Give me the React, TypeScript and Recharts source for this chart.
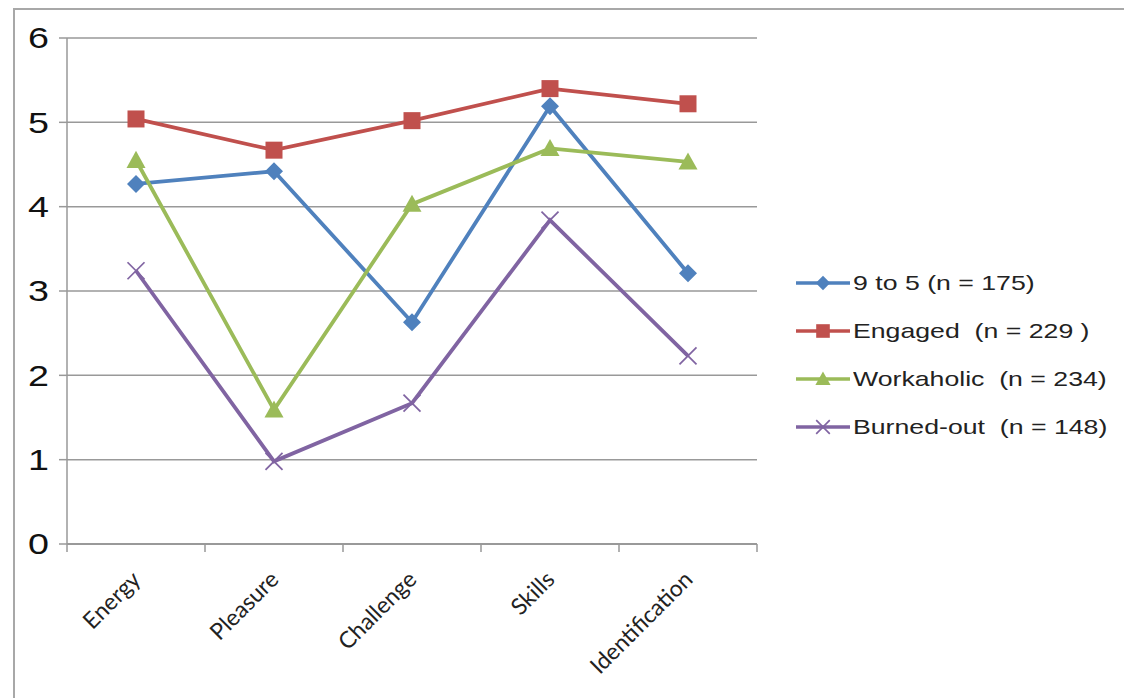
import React from 'react';
import { LineChart, Line, XAxis, YAxis, CartesianGrid } from 'recharts';

const categories = ['Energy', 'Pleasure', 'Challenge', 'Skills', 'Identification'];
const nineToFive = [4.27, 4.42, 2.63, 5.19, 3.21];
const engaged = [5.04, 4.67, 5.02, 5.4, 5.22];
const workaholic = [4.55, 1.59, 4.03, 4.69, 4.53];
const burnedOut = [3.24, 0.98, 1.67, 3.84, 2.23];
const yTicks = [0, 1, 2, 3, 4, 5, 6];

const seriesNames = ['9 to 5 (n = 175)', 'Engaged  (n = 229 )', 'Workaholic  (n = 234)', 'Burned-out  (n = 148)'];
const seriesKeys = ['nineToFive', 'engaged', 'workaholic', 'burnedOut'];
const colors = ['#4F81BD', '#C0504D', '#9BBB59', '#8064A2'];
const shapes = ['diamond', 'square', 'triangle', 'cross'];

const data = categories.map((c, i) => ({
  x: i + 0.5,
  name: c,
  nineToFive: nineToFive[i],
  engaged: engaged[i],
  workaholic: workaholic[i],
  burnedOut: burnedOut[i],
}));

const xTicks: number[] = [];
for (let i = 0; i <= categories.length * 2; i++) xTicks.push(i / 2);

function Marker({ shape, cx, cy, color, s = 1 }: any) {
  if (cx == null || cy == null) return null;
  if (shape === 'diamond') {
    const rx = 9 * s;
    const ry = 9 * s;
    return <polygon points={`${cx},${cy - ry} ${cx + rx},${cy} ${cx},${cy + ry} ${cx - rx},${cy}`} fill={color} />;
  }
  if (shape === 'square') {
    const h = 8.5 * s;
    return <rect x={cx - h} y={cy - h} width={2 * h} height={2 * h} fill={color} />;
  }
  if (shape === 'triangle') {
    const h = 9.5 * s;
    return <polygon points={`${cx},${cy - h} ${cx + h},${cy + h * 0.8} ${cx - h},${cy + h * 0.8}`} fill={color} />;
  }
  const r = 8.5 * s;
  return (
    <g stroke={color} strokeWidth={1.7}>
      <line x1={cx - r} y1={cy - r} x2={cx + r} y2={cy + r} />
      <line x1={cx - r} y1={cy + r} x2={cx + r} y2={cy - r} />
    </g>
  );
}

function XTick(props: any) {
  const { x, y, payload } = props;
  const v = payload.value;
  if (Math.abs(v - Math.round(v)) < 1e-6) {
    return <line x1={x} y1={y} x2={x} y2={y + 8} stroke="#999" strokeWidth={1.5} />;
  }
  const label = categories[Math.floor(v)];
  const ax = x + 6;
  const ay = y + 37;
  return (
    <text
      x={ax}
      y={ay}
      textAnchor="end"
      transform={`rotate(-45 ${ax} ${ay})`}
      fontFamily="Lato, 'Open Sans', sans-serif"
      fontSize={23}
      fill="#222"
    >
      {label}
    </text>
  );
}

function YTick(props: any) {
  const { x, y, payload } = props;
  return (
    <g transform={`translate(${x + 1},${y}) scale(1.3,1)`}>
      <text x={0} y={0} dy="0.36em" textAnchor="end" fontFamily="'Liberation Sans', Arial, sans-serif" fontSize={29} fill="#111">
        {payload.value}
      </text>
    </g>
  );
}

export default function App() {
  return (
    <div style={{ position: 'absolute', left: 0, top: 0, width: 1124, height: 698, background: '#fff', overflow: 'hidden' }}>
      <div
        style={{
          position: 'absolute',
          left: 13,
          top: 8,
          width: 1200,
          height: 800,
          borderLeft: '2px solid #a8a8a8',
          borderTop: '2px solid #a8a8a8',
          boxSizing: 'border-box',
        }}
      />
      <div style={{ position: 'absolute', left: 0, top: 0 }}>
        <LineChart width={1124} height={698} data={data} margin={{ top: 38, right: 367, bottom: 24, left: 0 }}>
          <CartesianGrid vertical={false} stroke="#999" strokeWidth={1.5} />
          <XAxis
            dataKey="x"
            type="number"
            domain={[0, 5]}
            ticks={xTicks}
            interval={0}
            height={130}
            tickLine={false}
            tickSize={0}
            tickMargin={0}
            axisLine={{ stroke: '#999', strokeWidth: 2 }}
            tick={<XTick />}
          />
          <YAxis
            type="number"
            domain={[0, 6]}
            ticks={yTicks}
            interval={0}
            width={67}
            tickSize={8}
            tickMargin={11}
            tickLine={{ stroke: '#999', strokeWidth: 1.5 }}
            axisLine={{ stroke: '#999', strokeWidth: 1.5 }}
            tick={<YTick />}
          />
          {seriesKeys.map((k, i) => (
            <Line
              key={k}
              dataKey={k}
              name={seriesNames[i]}
              stroke={colors[i]}
              strokeWidth={3.8}
              isAnimationActive={false}
              dot={(p: any) => <Marker key={`${k}-${p.index}`} shape={shapes[i]} cx={p.cx} cy={p.cy} color={colors[i]} />}
              activeDot={false}
            />
          ))}
        </LineChart>
      </div>
      <div style={{ position: 'absolute', left: 796, top: 283 - 24, fontFamily: "'Liberation Sans', Arial, sans-serif", fontSize: 21, color: '#222' }}>
        {seriesNames.map((n, i) => (
          <div key={n} style={{ display: 'flex', alignItems: 'center', height: 48, whiteSpace: 'pre' }}>
            <svg width={56} height={20} style={{ display: 'block' }}>
              <line x1={0} y1={10} x2={54} y2={10} stroke={colors[i]} strokeWidth={3.5} />
              <Marker shape={shapes[i]} cx={27} cy={10} color={colors[i]} s={0.8} />
            </svg>
            <span style={{ marginLeft: 1, display: 'inline-block', transform: 'scaleX(1.27)', transformOrigin: 'left center' }}>{n}</span>
          </div>
        ))}
      </div>
    </div>
  );
}
